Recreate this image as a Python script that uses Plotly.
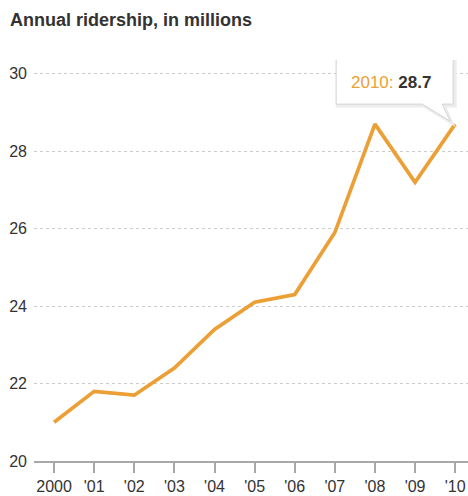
import plotly.graph_objects as go

years = [2000, 2001, 2002, 2003, 2004, 2005, 2006, 2007, 2008, 2009, 2010]
year_labels = ["2000", "'01", "'02", "'03", "'04", "'05", "'06", "'07", "'08", "'09", "'10"]
ridership = [21.0, 21.8, 21.7, 22.4, 23.4, 24.1, 24.3, 25.9, 28.7, 27.2, 28.7]
y_ticks = [20, 22, 24, 26, 28, 30]

ORANGE = "#EC9F35"
DARK = "#333333"
FONT = "Liberation Sans, Arial, sans-serif"

fig = go.Figure()
fig.add_trace(go.Scatter(
    x=years, y=ridership, mode="lines",
    line=dict(color=ORANGE, width=3.7),
    hoverinfo="skip", showlegend=False,
))

last_x, last_y = years[-1], ridership[-1]

# callout box (pixel coordinates relative to last data point)
box_path = "M -119,65 L -2,65 L -2,20 L -13,20 L -5,3 L -33,20 L -119,20 Z"
shadow_path = "M -118,64 L 0,64 L 0,18 L -11,18 L -3,1 L -31,18 L -118,18 Z"
fig.add_shape(type="path", xref="x", yref="y", xsizemode="pixel", ysizemode="pixel",
              xanchor=last_x, yanchor=last_y, path=shadow_path,
              fillcolor="#ececec", line=dict(color="#ececec", width=3), layer="above")
fig.add_shape(type="path", xref="x", yref="y", xsizemode="pixel", ysizemode="pixel",
              xanchor=last_x, yanchor=last_y, path=box_path,
              fillcolor="white", line=dict(color="#d4d4d4", width=1), layer="above")

fig.add_annotation(
    x=last_x, y=last_y, xref="x", yref="y", showarrow=False,
    xshift=-64, yshift=42, xanchor="center", yanchor="middle",
    text=f"<span style='color:{ORANGE}'>{years[-1]}:</span> <b style='color:{DARK}'>{last_y}</b>",
    font=dict(family=FONT, size=17),
)

fig.update_layout(
    width=468, height=496,
    margin=dict(l=34, r=0, t=60, b=35),
    paper_bgcolor="white", plot_bgcolor="white",
    title=dict(text="<b>Annual ridership, in millions</b>", x=0, xref="container", xanchor="left",
               y=0.96, yref="container", yanchor="middle",
               font=dict(family=FONT, size=18, color=DARK),
               pad=dict(l=10)),
    font=dict(family=FONT, color=DARK, size=16),
)

fig.update_xaxes(
    range=[1999.5, 2010.32], tickmode="array", tickvals=years, ticktext=year_labels,
    showgrid=False, zeroline=False, showline=True, linecolor="#a8a8a8", linewidth=2,
    ticks="outside", ticklen=10, tickwidth=2, tickcolor="#a8a8a8",
    tickfont=dict(family=FONT, size=16, color=DARK), fixedrange=True,
)
fig.update_yaxes(
    range=[20, 30.356], tickmode="array", tickvals=y_ticks,
    showgrid=True, gridcolor="#cccccc", gridwidth=1, griddash="3px,3px",
    zeroline=False, showline=False, ticks="", ticklabelstandoff=6,
    tickfont=dict(family=FONT, size=16, color=DARK), fixedrange=True,
)

fig.write_html("out.html")
